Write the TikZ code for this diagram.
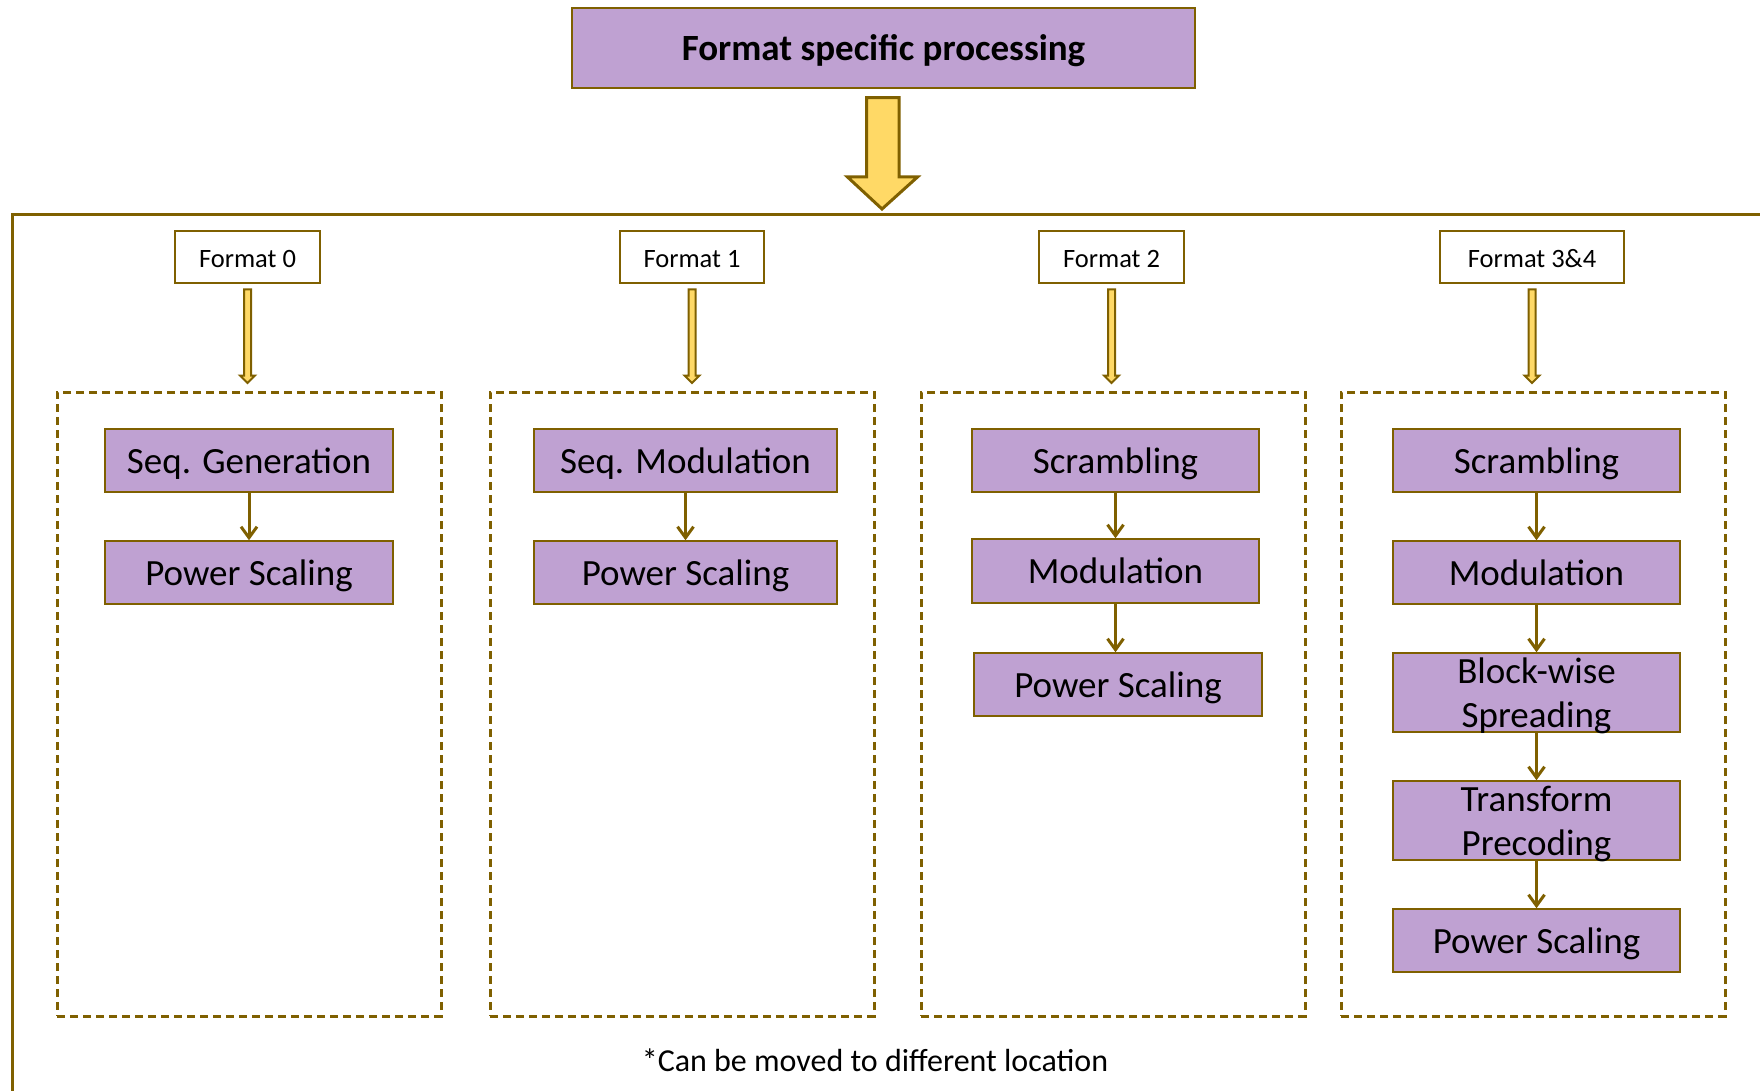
\documentclass[tikz,border=0pt]{standalone}
\usepackage{fontspec}
\setmainfont{Carlito}
\usetikzlibrary{arrows.meta,calc}
\definecolor{gold}{RGB}{127,96,0}
\definecolor{lilac}{RGB}{191,161,210}
\definecolor{sun}{RGB}{255,217,102}
\tikzset{
  pbox/.style={draw=gold, line width=1.5pt, fill=lilac, inner sep=0pt,
    text height=32pt, text depth=7pt,
    font=\fontsize{37}{44}\selectfont, align=center},
  ptext/.style={inner sep=0pt, yshift=-3pt, font=\fontsize{37}{44}\selectfont, align=center},
  fmtbox/.style={draw=gold, line width=2.5pt, fill=white, inner sep=0pt,
    minimum height=52pt, text height=22pt, text depth=2pt,
    font=\fontsize{26.5}{32}\selectfont},
  groupbox/.style={draw=gold, line width=3pt, dash pattern=on 8pt off 5pt,
    inner sep=0pt, minimum width=384pt, minimum height=624pt},
  flow/.style={draw=gold, line width=3pt,
    -{Straight Barb[length=11pt,width=16pt,line width=3pt]}},
  hollow/.style={draw=gold, fill=sun, line width=2pt, line join=miter},
  framing/.style={draw=gold, line width=3pt}
}
% hollow downward arrow between a format label and its group box
\newcommand\fmtarrow[2]{%
  \path[hollow] let \p1=(#1.south), \p2=(#2.north) in
    (\x1-3.5pt,\y1-5pt) -- (\x1+3.5pt,\y1-5pt) -- (\x1+3.5pt,\y2+15pt)
    -- (\x1+7.5pt,\y2+15pt) -- (\x1,\y2+7.5pt) -- (\x1-7.5pt,\y2+15pt)
    -- (\x1-3.5pt,\y2+15pt) -- cycle;}
\begin{document}
\begin{tikzpicture}[x=1pt,y=-1pt]
\useasboundingbox (0,0) rectangle (1760,1091);

% heading
\node[pbox, minimum width=623pt, minimum height=80pt, font=\fontsize{37}{44}\selectfont\bfseries]
  (title) at (883.5,48) {Format specific processing};

% outer frame
\coordinate (frTR) at (1765,215);
\coordinate (frTL) at (12,215);
\coordinate (frBL) at (12,1096);
\draw[framing] (frTR) -- (frTL) -- (frBL);

% big yellow arrow from the heading into the frame
\path[hollow, line width=3pt] let \p1=(title.south) in
  (\x1-17pt,\y1-9pt) -- (\x1+15.5pt,\y1-9pt) -- (\x1+15.5pt,-177pt)
  -- (\x1+34pt,-177pt) -- (\x1-1.5pt,-209pt) -- (\x1-36pt,-177pt)
  -- (\x1-17pt,-177pt) -- cycle;

% format labels
\node[fmtbox, minimum width=145pt] (fl0) at (247.5,257) {Format 0};
\node[fmtbox, minimum width=144pt] (fl1) at (692,257) {Format 1};
\node[fmtbox, minimum width=145pt] (fl2) at (1111.5,257) {Format 2};
\node[fmtbox, minimum width=184pt] (fl3) at (1532,257) {Format 3\&4};

% dashed groups
\node[groupbox] (g0) at (249,704) {};
\node[groupbox] (g1) at (682,704) {};
\node[groupbox] (g2) at (1113,704) {};
\node[groupbox] (g3) at (1533,704) {};

\fmtarrow{fl0}{g0}
\fmtarrow{fl1}{g1}
\fmtarrow{fl2}{g2}
\fmtarrow{fl3}{g3}

% format 0
\node[pbox, minimum width=288pt, minimum height=63pt] (a1) at (249,460.5) {Seq. Generation};
\node[pbox, minimum width=288pt, minimum height=63pt] (a2) at (249,572.5) {Power Scaling};
\draw[flow] (a1.south) -- (a2.north);

% format 1
\node[pbox, minimum width=303pt, minimum height=63pt] (b1) at (685.5,460.5) {Seq. Modulation};
\node[pbox, minimum width=303pt, minimum height=63pt] (b2) at (685.5,572.5) {Power Scaling};
\draw[flow] (b1.south) -- (b2.north);

% format 2
\node[pbox, minimum width=287pt, minimum height=63pt] (c1) at (1115.5,460.5) {Scrambling};
\node[pbox, minimum width=287pt, minimum height=64pt] (c2) at (1115.5,571) {Modulation};
\node[pbox, minimum width=288pt, minimum height=63pt] (c3) at (1118,684.5) {Power Scaling};
\draw[flow] (c1.south) -- (c2.north);
\draw[flow] (c2.south) -- (c2.south |- c3.north);

% formats 3 and 4
\node[pbox, minimum width=287pt, minimum height=63pt] (d1) at (1536.5,460.5) {Scrambling};
\node[pbox, minimum width=287pt, minimum height=63pt] (d2) at (1536.5,572.5) {Modulation};
\node[pbox, minimum width=287pt, minimum height=79pt] (d3) at (1536.5,692.5) {};
\node[ptext] (d3t) at (d3) {Block-wise\\Spreading};
\node[pbox, minimum width=287pt, minimum height=79pt] (d4) at (1536.5,820.5) {};
\node[ptext] (d4t) at (d4) {Transform\\Precoding};
\node[pbox, minimum width=287pt, minimum height=63pt] (d5) at (1536.5,940.5) {Power Scaling};
\draw[flow] (d1.south) -- (d2.north);
\draw[flow] (d2.south) -- (d3.north);
\draw[flow] (d3.south) -- (d4.north);
\draw[flow] (d4.south) -- (d5.north);

% note
\node[font=\fontsize{32}{38}\selectfont] (note) at (875,1060) {*Can be moved to different location};
\end{tikzpicture}
\end{document}
